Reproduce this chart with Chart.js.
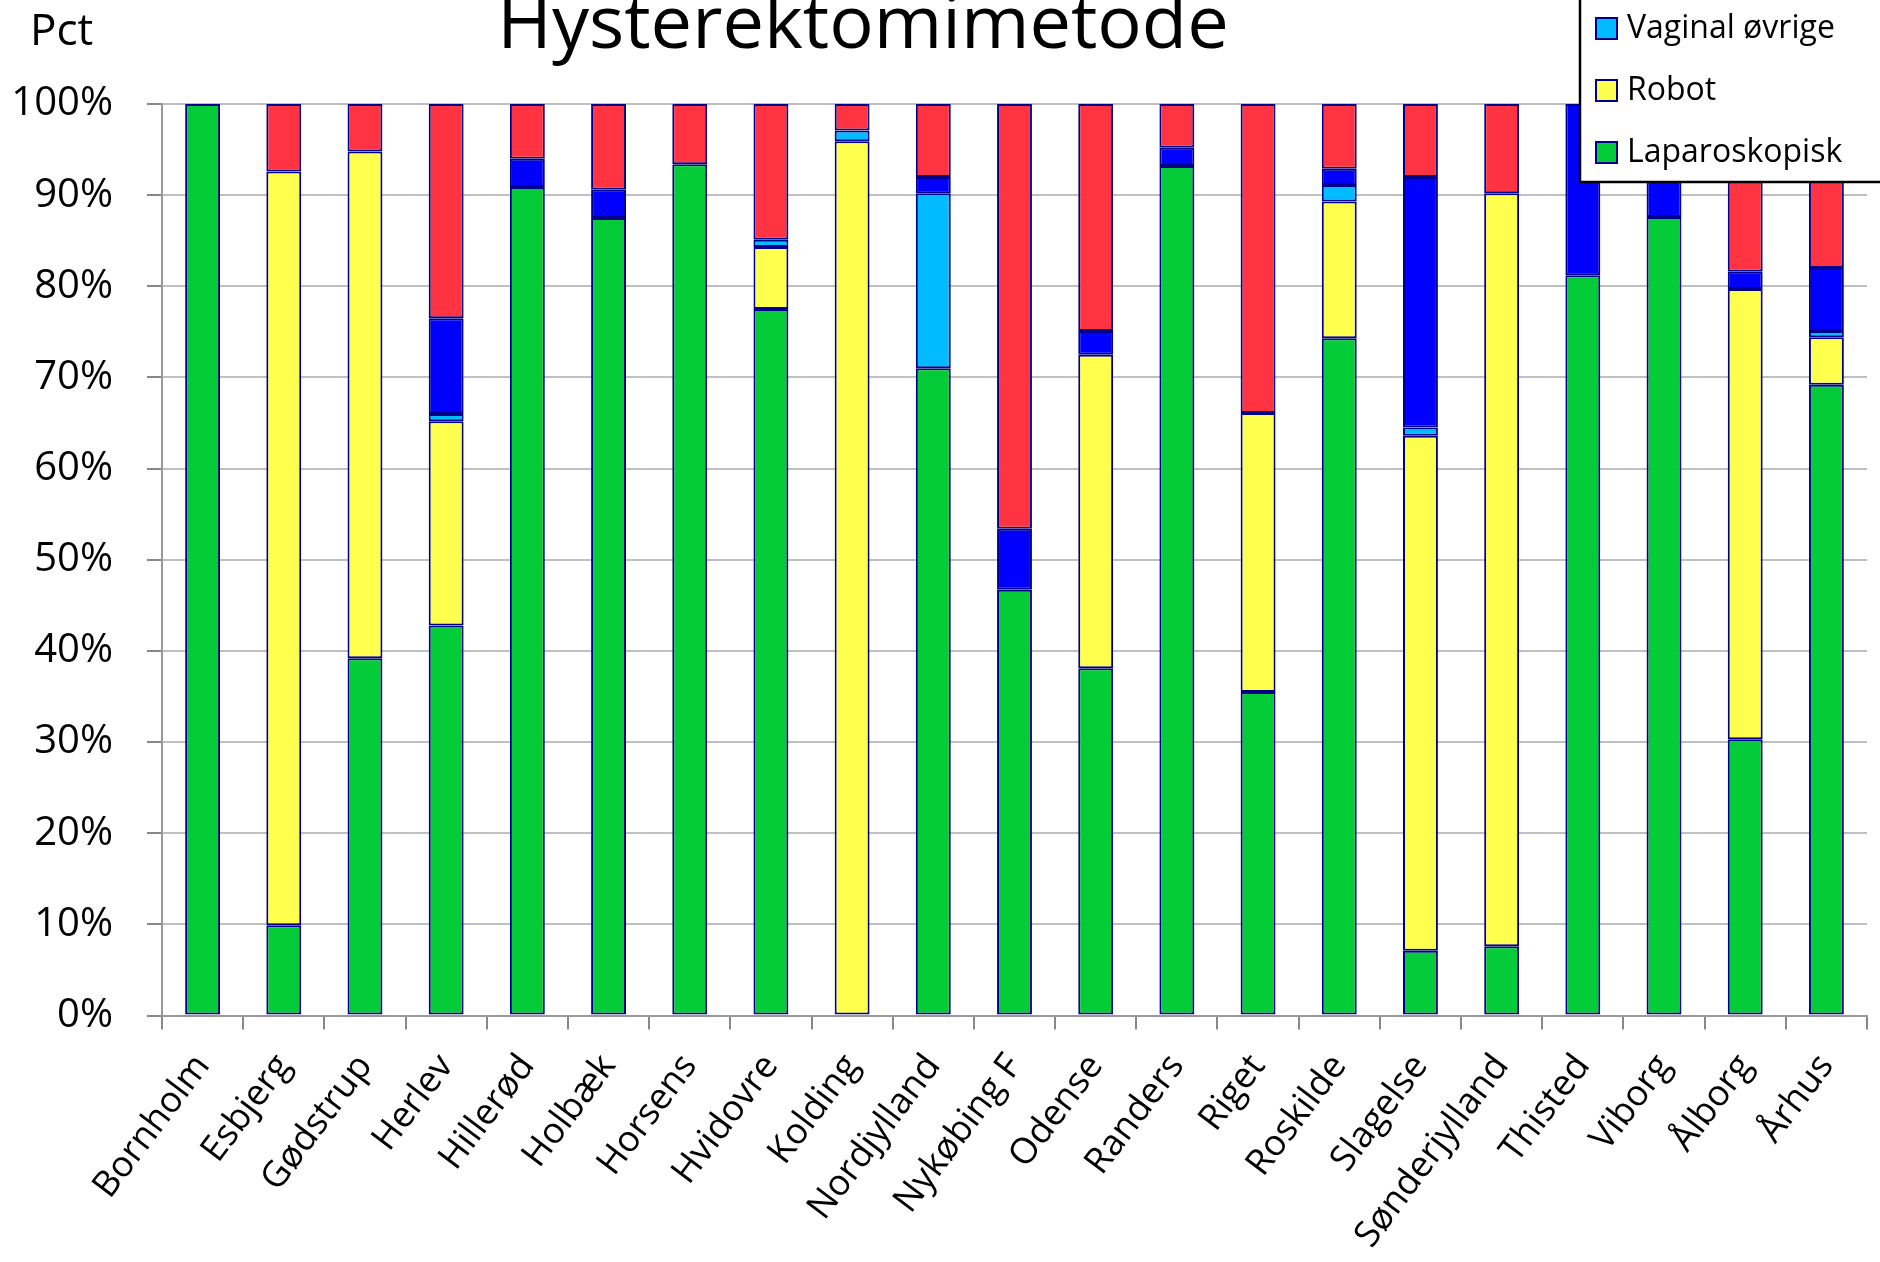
<!DOCTYPE html>
<html>
<head>
<meta charset="utf-8">
<script src="https://cdn.jsdelivr.net/npm/chart.js@4"></script>
<style>
  html, body { margin:0; padding:0; background:#fff; }
  #wrap { width:1880px; height:1262px; }
</style>
</head>
<body>
<div id="wrap"><canvas id="chart" width="1880" height="1262"></canvas></div>
<script>
// sygehuse
const hospitals = ['Bornholm','Esbjerg','Gødstrup','Herlev','Hillerød','Holbæk','Horsens','Hvidovre','Kolding','Nordjylland','Nykøbing F','Odense','Randers','Riget','Roskilde','Slagelse','Sønderjylland','Thisted','Viborg','Ålborg','Århus'];

// andele i pct, nederst -> øverst
const laparoskopisk = [100, 9.9, 39.2, 42.8, 90.9, 87.5, 93.4, 77.5, 0, 71.0, 46.7, 38.1, 93.2, 35.5, 74.3, 7.1, 7.6, 81.2, 87.6, 30.3, 69.2];
const robot         = [0, 82.7, 55.6, 22.4, 0, 0, 0, 6.8, 95.9, 0, 0, 34.4, 0, 30.6, 15.0, 56.5, 82.6, 0, 0, 49.4, 5.2];
const vaginalOvrige = [0, 0, 0, 0.8, 0, 0, 0, 0.8, 1.2, 19.2, 0, 0, 0, 0, 1.8, 0.9, 0, 0, 0, 0, 0.7];
const vaginal       = [0, 0, 0, 10.5, 3.1, 3.1, 0, 0, 0, 1.8, 6.7, 2.6, 2.0, 0, 1.8, 27.5, 0, 18.8, 12.4, 1.9, 6.9];
const abdominal     = [0, 7.4, 5.2, 23.5, 6.0, 9.4, 6.6, 14.9, 2.9, 8.0, 46.6, 24.9, 4.8, 33.9, 7.1, 8.0, 9.8, 0, 0, 18.4, 18.0];

const yTicks = [0, 10, 20, 30, 40, 50, 60, 70, 80, 90, 100];

const FONT = '"Open Sans", "Noto Sans", sans-serif';
const EDGE = '#00008b';

function ds(label, data, color){
  return { label, data, backgroundColor: color, borderColor: EDGE, borderWidth: 2,
           borderSkipped: false, barPercentage: 0.43, categoryPercentage: 1.0 };
}

// titel, "Pct" og legende (legenden ligger delvist udenfor billedet)
const decor = {
  id: 'decor',
  afterDraw(chart){
    const ctx = chart.ctx;
    ctx.save();
    ctx.fillStyle = '#000';
    ctx.textBaseline = 'alphabetic';
    ctx.font = '74px ' + FONT;
    ctx.textAlign = 'center';
    ctx.fillText('Hysterektomimetode', 863, 48);
    ctx.font = '44px ' + FONT;
    ctx.textAlign = 'left';
    ctx.fillText('Pct', 30, 45);

    // legend box
    ctx.fillStyle = '#fff';
    ctx.fillRect(1580, -140, 320, 322);
    ctx.strokeStyle = '#000';
    ctx.lineWidth = 2.5;
    ctx.strokeRect(1580, -140, 320, 322);

    const sets = chart.data.datasets;
    ctx.font = '32px ' + FONT;
    ctx.textBaseline = 'middle';
    sets.forEach((d, i) => {
      const y = 152 - i * 62;
      ctx.fillStyle = d.backgroundColor;
      ctx.fillRect(1596, y - 10, 21, 21);
      ctx.strokeStyle = EDGE;
      ctx.lineWidth = 2;
      ctx.strokeRect(1596, y - 10, 21, 21);
      ctx.fillStyle = '#000';
      ctx.fillText(d.label, 1627, y + 1);
    });
    ctx.restore();
  }
};

new Chart(document.getElementById('chart'), {
  type: 'bar',
  data: {
    labels: hospitals,
    datasets: [
      ds('Laparoskopisk', laparoskopisk, '#03cc38'),
      ds('Robot', robot, '#ffff4d'),
      ds('Vaginal øvrige', vaginalOvrige, '#00bbff'),
      ds('Vaginal', vaginal, '#0000ff'),
      ds('Abdominal', abdominal, '#ff3342')
    ]
  },
  options: {
    responsive: false,
    animation: false,
    layout: { padding: { top: 104, right: 13, left: 0, bottom: 0 } },
    plugins: { legend: { display: false }, title: { display: false }, tooltip: { enabled: false } },
    scales: {
      x: {
        stacked: true,
        offset: true,
        grid: { display: true, drawOnChartArea: false, drawTicks: true, tickLength: 14, color: '#888', lineWidth: 2, offset: true },
        border: { display: true, color: '#999', width: 2 },
        ticks: { color: '#000', font: { family: FONT, size: 36 }, minRotation: 53, maxRotation: 53, padding: 17, autoSkip: false },
        afterFit(scale){ scale.height = 246.5; }
      },
      y: {
        stacked: true,
        min: 0, max: 100,
        afterBuildTicks(scale){ scale.ticks = yTicks.map(v => ({ value: v })); },
        grid: { color: '#c0c0c0', lineWidth: 2, tickLength: 15, tickColor: '#888', drawTicks: true },
        border: { display: true, color: '#999', width: 2 },
        ticks: { color: '#000', font: { family: FONT, size: 40 }, padding: 34, callback: v => v + '%' },
        afterFit(scale){ scale.width = 162; }
      }
    }
  },
  plugins: [decor]
});
</script>
</body>
</html>
